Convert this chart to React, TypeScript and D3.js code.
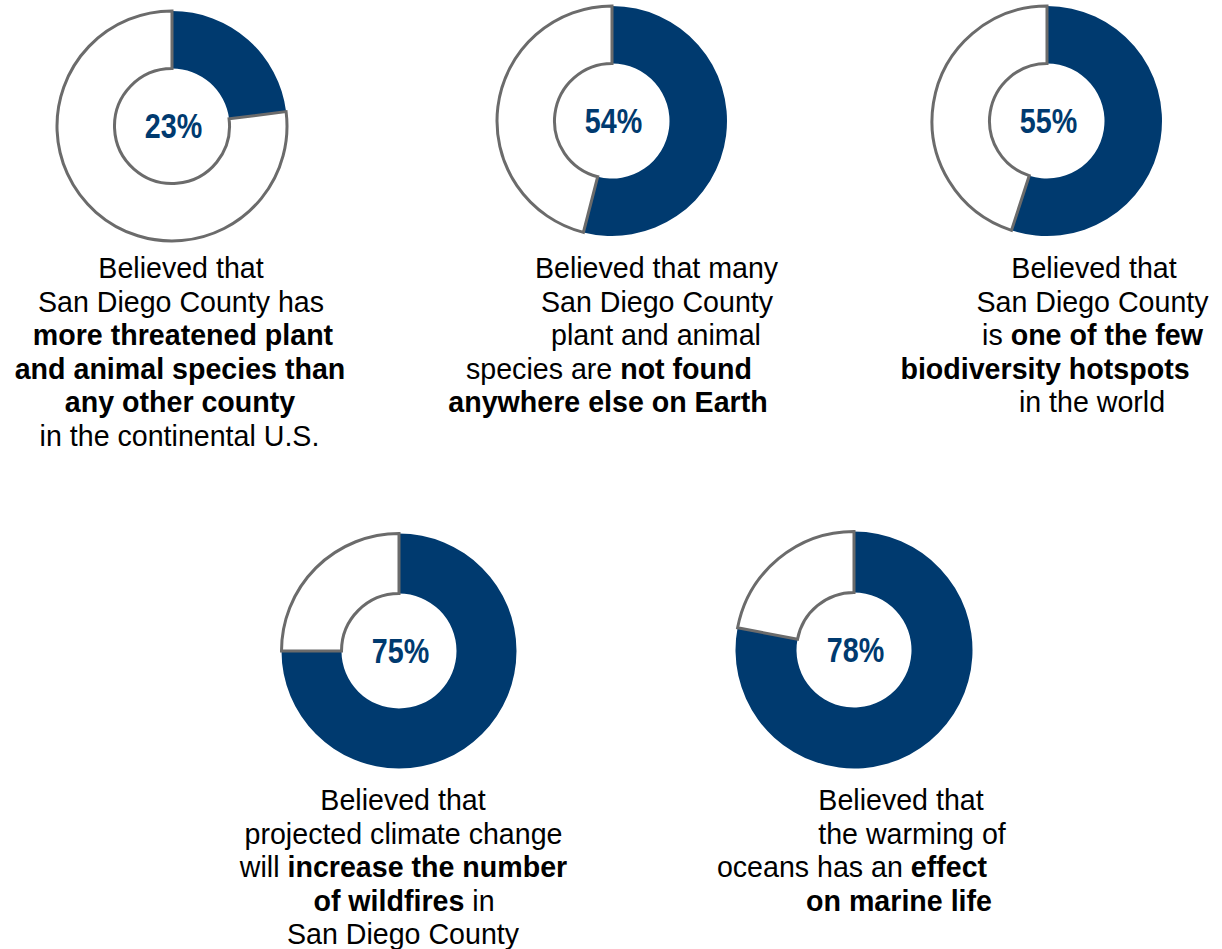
import React from "react";
import * as d3 from "d3";

// ---- data ----
const percentValues = [23, 54, 55, 75, 78];
const percentLabels = ["23%", "54%", "55%", "75%", "78%"];

type Seg = [string, boolean];
const captions: Seg[][][] = [
  [
    [["Believed that", false]],
    [["San Diego County has", false]],
    [["more threatened plant", true]],
    [["and animal species than", true]],
    [["any other county", true]],
    [["in the continental U.S.", false]],
  ],
  [
    [["Believed that many", false]],
    [["San Diego County", false]],
    [["plant and animal", false]],
    [["species are ", false], ["not found", true]],
    [["anywhere else on Earth", true]],
  ],
  [
    [["Believed that", false]],
    [["San Diego County", false]],
    [["is ", false], ["one of the few", true]],
    [["biodiversity hotspots", true]],
    [["in the world", false]],
  ],
  [
    [["Believed that", false]],
    [["projected climate change", false]],
    [["will ", false], ["increase the number", true]],
    [["of wildfires", true], [" in", false]],
    [["San Diego County", false]],
  ],
  [
    [["Believed that", false]],
    [["the warming of", false]],
    [["oceans has an ", false], ["effect", true]],
    [["on marine life", true]],
  ],
];

// ---- layout (not data) ----
const W = 1222;
const H = 949;
const BLUE = "#003a6f";
const GREY = "#6b6b6b";

const row1x = d3.scalePoint<number>().domain([0, 1, 2]).range([172, 1047]);
const row2x = d3.scalePoint<number>().domain([0, 1]).range([399, 854]);

const panels = [
  { cx: row1x(0)!, cy: 126, R: 115, textY: 278, lineX: [181, 181, 183, 180, 180, 179.5] },
  { cx: row1x(1)! + 2.5, cy: 121, R: 115, textY: 278, lineX: [656.5, 657, 656, 609, 608] },
  { cx: row1x(2)!, cy: 121, R: 115, textY: 278, lineX: [1094, 1092.5, 1092.5, 1045, 1092] },
  { cx: row2x(0)!, cy: 651, R: 117.5, textY: 810, lineX: [403, 403.5, 403.5, 404, 403] },
  { cx: row2x(1)!, cy: 650, R: 118.5, textY: 810, lineX: [901, 912, 852, 899] },
];
const INNER = 57.5;
const LINE_H = 33.5;

export default function App() {
  const pie = d3
    .pie<number>()
    .sort(null)
    .value((d) => d);

  return (
    <svg
      width={W}
      height={H}
      viewBox={`0 0 ${W} ${H}`}
      style={{ position: "absolute", left: 0, top: 0, background: "#fff" }}
    >
      <rect x={0} y={0} width={W} height={H} fill="#fff" />
      {percentValues.map((v, i) => {
        const p = panels[i];
        const arcs = pie([v, 100 - v]);
        const arc = d3
          .arc<d3.PieArcDatum<number>>()
          .innerRadius(INNER)
          .outerRadius(p.R);
        return (
          <g key={i}>
            <g transform={`translate(${p.cx},${p.cy})`}>
              <path d={arc(arcs[0]) || ""} fill={BLUE} />
              <path
                d={arc(arcs[1]) || ""}
                fill="#fff"
                stroke={GREY}
                strokeWidth={3}
                strokeLinejoin="miter"
              />
              <g transform="translate(1.5,12) scale(0.82,1)">
                <text
                  x={0}
                  y={0}
                  textAnchor="middle"
                  fontFamily="'Liberation Sans', Arial, sans-serif"
                  fontWeight="bold"
                  fontSize={35}
                  fill={BLUE}
                >
                  {percentLabels[i]}
                </text>
              </g>
            </g>
            {captions[i].map((line, li) => (
              <text
                key={li}
                x={p.lineX[li]}
                y={p.textY + li * LINE_H}
                textAnchor="middle"
                fontFamily="'Liberation Sans', Arial, sans-serif"
                fontSize={28.6}
                fill="#000"
              >
                {line.map((seg, si) => (
                  <tspan key={si} fontWeight={seg[1] ? "bold" : "normal"}>
                    {seg[0]}
                  </tspan>
                ))}
              </text>
            ))}
          </g>
        );
      })}
    </svg>
  );
}
